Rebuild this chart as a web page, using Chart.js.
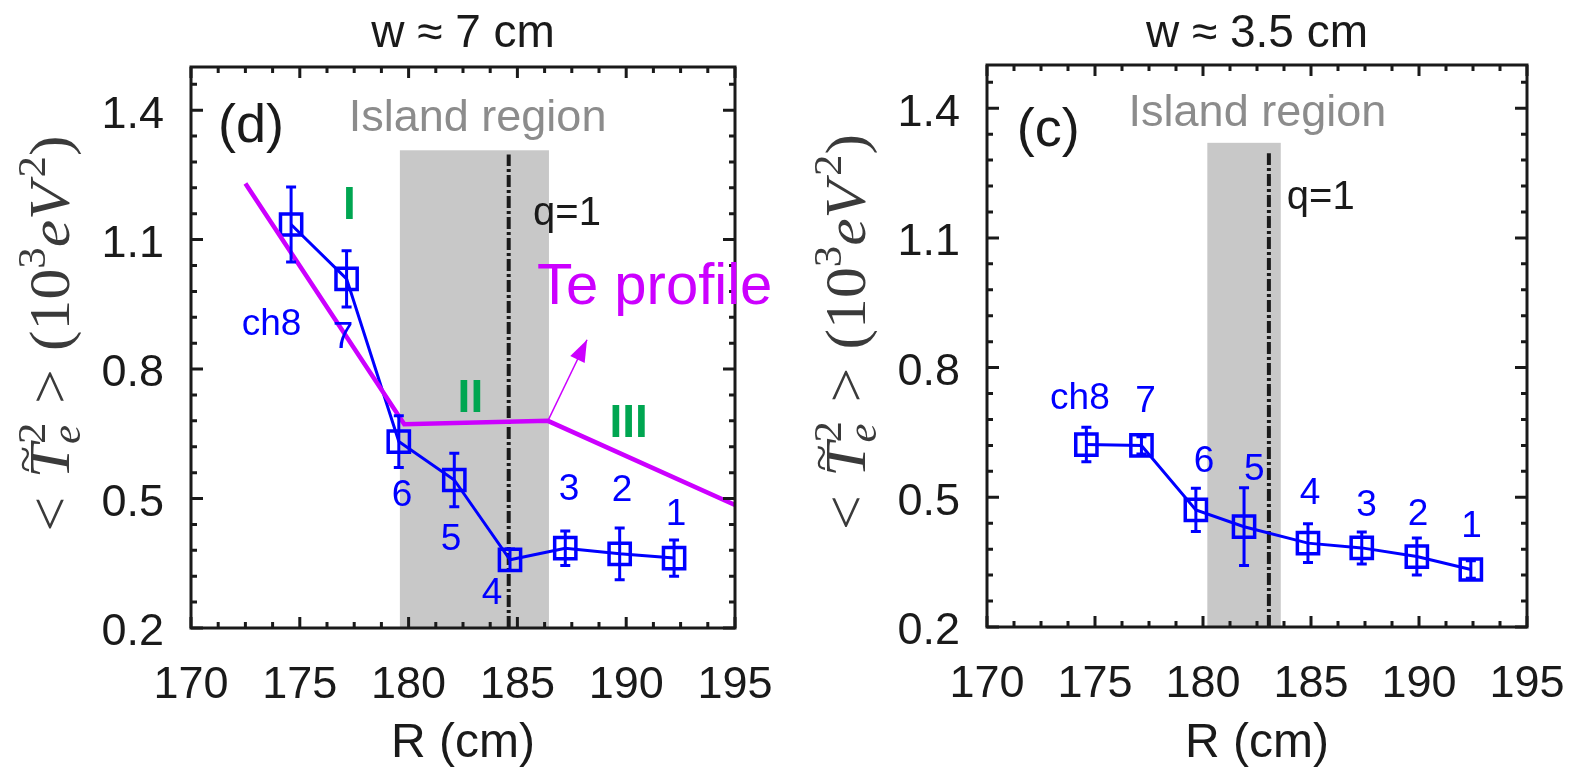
<!DOCTYPE html>
<html lang="en">
<head>
<meta charset="UTF-8">
<title>Te fluctuation vs R</title>
<script src="https://cdn.jsdelivr.net/npm/chart.js"></script>
<style>
  body { margin: 0; background: #fff; }
  .wrap { display: flex; width: 1571px; height: 773px; }
  #boxD { position: relative; width: 790px; height: 773px; }
  #boxC { position: relative; width: 781px; height: 773px; }
</style>
</head>
<body>
<div class="wrap">
  <div id="boxD"><canvas id="chartD"></canvas></div>
  <div id="boxC"><canvas id="chartC"></canvas></div>
</div>

<script>
// axes
const xTicks = [170, 175, 180, 185, 190, 195]
const yTicks = [0.2, 0.5, 0.8, 1.1, 1.4]
const channels = ['ch8', '7', '6', '5', '4', '3', '2', '1']

// panel (d), w ~ 7 cm
const rD = [174.6, 177.15, 179.55, 182.1, 184.66, 187.2, 189.7, 192.2]
const teD = [1.135, 1.009, 0.632, 0.543, 0.358, 0.385, 0.372, 0.362]
const errD = [0.087, 0.065, 0.06, 0.062, 0.025, 0.04, 0.06, 0.042]
const profileR = [172.5, 179.8, 186.4, 195]
const profileTe = [1.23, 0.672, 0.68, 0.485]
const islandD = [179.6, 186.45]
const q1D = 184.6

// panel (c), w ~ 3.5 cm
const rC = [174.6, 177.15, 179.67, 181.9, 184.86, 187.35, 189.9, 192.4]
const teC = [0.622, 0.62, 0.471, 0.432, 0.394, 0.383, 0.363, 0.333]
const errC = [0.04, 0.02, 0.05, 0.09, 0.045, 0.037, 0.043, 0.02]
const islandC = [180.2, 183.6]
const q1C = 183.05

// where the channel numbers sit (data units)
const labelPosD = [[173.7, 0.903], [176.99, 0.873], [179.7, 0.506], [181.95, 0.404], [183.83, 0.279], [187.37, 0.52], [189.81, 0.518], [192.29, 0.462]]
const labelPosC = [[174.3, 0.727], [177.34, 0.722], [180.05, 0.581], [182.38, 0.564], [184.95, 0.509], [187.57, 0.481], [189.95, 0.46], [192.43, 0.432]]

const SANS = '"Liberation Sans", Arial, sans-serif'
const SERIF = '"Liberation Serif", "Times New Roman", serif'
const BLUE = '#0000ff'
const MAGENTA = '#cc00ff'
const GREEN = '#00a651'
const INK = '#1a1a1a'

function xy(xs, ys) { return xs.map((x, i) => ({ x: x, y: ys[i] })) }

// grey island band + dash-dot q=1 line, under the data
const bandPlugin = {
  id: 'band',
  beforeDatasetsDraw(chart, args, o) {
    const { ctx, scales: { x, y } } = chart
    const x0 = x.getPixelForValue(o.band[0]), x1 = x.getPixelForValue(o.band[1])
    const yt = y.getPixelForValue(o.top), yb = y.getPixelForValue(y.min)
    ctx.save()
    ctx.fillStyle = '#c8c8c8'
    ctx.fillRect(x0, yt, x1 - x0, yb - yt)
    const xq = x.getPixelForValue(o.q1)
    ctx.strokeStyle = INK
    ctx.lineWidth = 4
    ctx.setLineDash([12, 3, 3, 3])
    ctx.beginPath()
    ctx.moveTo(xq, yb)
    ctx.lineTo(xq, y.getPixelForValue(o.qTop))
    ctx.stroke()
    ctx.restore()
  }
}

// vertical error bars with small caps
const errorBarPlugin = {
  id: 'errbars',
  afterDatasetsDraw(chart) {
    const { ctx, scales: { x, y } } = chart
    chart.data.datasets.forEach(ds => {
      if (!ds.errors) return
      ctx.save()
      ctx.strokeStyle = ds.borderColor
      ctx.lineWidth = 3
      ctx.beginPath()
      ds.data.forEach((p, i) => {
        const px = x.getPixelForValue(p.x)
        const t = y.getPixelForValue(p.y + ds.errors[i])
        const b = y.getPixelForValue(p.y - ds.errors[i])
        ctx.moveTo(px, t); ctx.lineTo(px, b)
        ctx.moveTo(px - 5, t); ctx.lineTo(px + 5, t)
        ctx.moveTo(px - 5, b); ctx.lineTo(px + 5, b)
      })
      ctx.stroke()
      ctx.restore()
    })
  }
}

function near(list, v) { return list.some(t => Math.abs(t - v) < 1e-6) }

// y title: < T~_e^2 > (10^3 eV^2), laid out piece by piece
function yTitle(ctx, draw) {
  const F = 56
  const nf = F + 'px ' + SERIF, itf = 'italic ' + nf
  const sf = Math.round(F * 0.7) + 'px ' + SERIF, sit = 'italic ' + sf
  let u = 0
  const put = (t, font, dy, adv = true) => {
    ctx.font = font
    const w = ctx.measureText(t).width
    if (draw) ctx.fillText(t, u, dy)
    if (adv) u += w
    return w
  }
  put('<', nf, 0)
  u += F * 0.3
  const uT = u
  const wT = put('T', itf, 0)
  ctx.font = Math.round(F * 0.8) + 'px ' + SERIF
  const wt = ctx.measureText('~').width
  if (draw) ctx.fillText('~', uT + wT * 0.55 - wt / 2, -F * 0.52)
  const w2 = put('2', sf, -F * 0.42, false)
  const we = put('e', sit, F * 0.2, false)
  u += Math.max(w2, we) + F * 0.3
  put('>', nf, 0)
  u += F * 0.3
  put('(', nf, 0)
  put('10', nf, 0)
  put('3', sf, -F * 0.42)
  put('e', itf, 0)
  put('V', itf, 0)
  u += F * 0.08
  put('2', sf, -F * 0.42)
  put(')', nf, 0)
  return u
}

// frame, inward ticks, texts, arrow and titles
const notesPlugin = {
  id: 'notes',
  afterDraw(chart, args, o) {
    const { ctx, chartArea: a, scales: { x, y } } = chart
    ctx.save()
    ctx.strokeStyle = INK
    ctx.lineWidth = 3
    ctx.strokeRect(a.left, a.top, a.right - a.left, a.bottom - a.top)
    ctx.beginPath()
    for (let v = x.min; v <= x.max + 1e-6; v += 1.25) {
      const px = x.getPixelForValue(v), len = near(xTicks, v) ? 11 : 6
      ctx.moveTo(px, a.bottom); ctx.lineTo(px, a.bottom - len)
      ctx.moveTo(px, a.top); ctx.lineTo(px, a.top + len)
    }
    for (let k = 0; 0.2 + k * 0.06 < y.max - 1e-6; k++) {
      const v = 0.2 + k * 0.06
      const py = y.getPixelForValue(v), len = near(yTicks, v) ? 12 : 6
      ctx.moveTo(a.left, py); ctx.lineTo(a.left + len, py)
      ctx.moveTo(a.right, py); ctx.lineTo(a.right - len, py)
    }
    ctx.stroke()

    // arrow from the Te profile kink
    if (o.arrow) {
      const x0 = x.getPixelForValue(o.arrow[0]), y0 = y.getPixelForValue(o.arrow[1])
      const x1 = x.getPixelForValue(o.arrow[2]), y1 = y.getPixelForValue(o.arrow[3])
      const ang = Math.atan2(y1 - y0, x1 - x0)
      ctx.strokeStyle = MAGENTA
      ctx.fillStyle = MAGENTA
      ctx.lineWidth = 1.5
      ctx.beginPath(); ctx.moveTo(x0, y0); ctx.lineTo(x1, y1); ctx.stroke()
      ctx.beginPath()
      ctx.moveTo(x1, y1)
      ctx.lineTo(x1 - 22 * Math.cos(ang) + 8 * Math.sin(ang), y1 - 22 * Math.sin(ang) - 8 * Math.cos(ang))
      ctx.lineTo(x1 - 22 * Math.cos(ang) - 8 * Math.sin(ang), y1 - 22 * Math.sin(ang) + 8 * Math.cos(ang))
      ctx.closePath()
      ctx.fill()
    }

    o.texts.forEach(t => {
      ctx.font = t.font
      ctx.fillStyle = t.color
      ctx.textAlign = t.align || 'center'
      ctx.textBaseline = t.base || 'middle'
      ctx.fillText(t.text, x.getPixelForValue(t.x), y.getPixelForValue(t.y))
    })

    // panel title
    ctx.font = '46px ' + SANS
    ctx.fillStyle = INK
    ctx.textAlign = 'center'
    ctx.textBaseline = 'alphabetic'
    ctx.fillText(o.title, (a.left + a.right) / 2, 47)

    // rotated y title, stretched a little along the text like the TeX font
    ctx.fillStyle = '#3a3a3a'
    ctx.textAlign = 'left'
    const total = yTitle(ctx, false) * 1.1
    ctx.translate(a.left - 122, (a.top + a.bottom) / 2 - 14)
    ctx.rotate(-Math.PI / 2)
    ctx.translate(-total / 2, 0)
    ctx.scale(1.1, 1)
    yTitle(ctx, true)
    ctx.restore()
  }
}

function channelTexts(pos) {
  return channels.map((c, i) => ({ text: c, x: pos[i][0], y: pos[i][1], font: '37px ' + SANS, color: BLUE }))
}

function makePanel(id, p) {
  const datasets = []
  if (p.profile) {
    datasets.push({
      data: xy(p.profile[0], p.profile[1]),
      borderColor: MAGENTA, borderWidth: 4.5, pointRadius: 0
    })
  }
  datasets.push({
    data: xy(p.r, p.te),
    errors: p.err,
    borderColor: BLUE, borderWidth: 3,
    pointStyle: 'rect', pointRadius: 15, pointBorderWidth: 3.5,
    pointBackgroundColor: 'rgba(0,0,0,0)', pointBorderColor: BLUE
  })

  return new Chart(document.getElementById(id), {
    type: 'line',
    data: { datasets: datasets },
    plugins: [bandPlugin, errorBarPlugin, notesPlugin],
    options: {
      responsive: true,
      maintainAspectRatio: false,
      animation: false,
      layout: { padding: { top: p.top, right: p.right, bottom: 0, left: 0 } },
      plugins: {
        legend: { display: false },
        tooltip: { enabled: false },
        band: { band: p.island, top: p.islandTop, q1: p.q1, qTop: p.qTop },
        notes: { texts: p.texts, title: p.title, arrow: p.arrow }
      },
      scales: {
        x: {
          type: 'linear', min: 170, max: 195,
          afterBuildTicks: s => { s.ticks = xTicks.map(v => ({ value: v })) },
          afterFit: s => {
            s.height = 773 - p.bottom
            s.paddingLeft = 0
            s.paddingRight = 0
          },
          grid: { display: false, drawTicks: false },
          border: { display: false },
          ticks: { font: { family: SANS, size: 45 }, color: INK, padding: 31, maxRotation: 0, autoSkip: false },
          title: { display: true, text: 'R (cm)', font: { family: SANS, size: 48 }, color: INK, padding: { top: 0, bottom: 0 } }
        },
        y: {
          type: 'linear', min: 0.2, max: 1.5,
          afterBuildTicks: s => { s.ticks = yTicks.map(v => ({ value: v })) },
          afterFit: s => {
            s.width = p.left
            s.paddingTop = 0
            s.paddingBottom = 0
          },
          grid: { display: false, drawTicks: false },
          border: { display: false },
          ticks: { font: { family: SANS, size: 45 }, color: INK, padding: 27, labelOffset: 5 }
        }
      }
    }
  })
}

const big = '54px ' + SANS
const roman = 'bold 46px ' + SANS

makePanel('chartD', {
  r: rD, te: teD, err: errD,
  profile: [profileR, profileTe],
  island: islandD, islandTop: 1.307, q1: q1D, qTop: 1.297,
  arrow: [186.4, 0.68, 188.2, 0.868],
  top: 67, right: 55, bottom: 628, left: 191,
  title: 'w \u2248 7 cm',
  texts: [
    { text: '(d)', x: 172.76, y: 1.36, font: big, color: INK },
    { text: 'Island region', x: 183.17, y: 1.352, font: '45px ' + SANS, color: '#8c8c8c', base: 'alphabetic' },
    { text: 'q=1', x: 185.72, y: 1.133, font: '40px ' + SANS, color: INK, align: 'left', base: 'alphabetic' },
    { text: 'I', x: 177.28, y: 1.178, font: roman, color: GREEN },
    { text: 'II', x: 182.84, y: 0.729, font: roman, color: GREEN },
    { text: 'III', x: 190.11, y: 0.671, font: roman, color: GREEN },
    { text: 'Te profile', x: 185.9, y: 0.95, font: '58px ' + SANS, color: MAGENTA, align: 'left', base: 'alphabetic' }
  ].concat(channelTexts(labelPosD))
})

makePanel('chartC', {
  r: rC, te: teC, err: errC,
  island: islandC, islandTop: 1.32, q1: q1C, qTop: 1.296,
  top: 65, right: 44, bottom: 627, left: 197,
  title: 'w \u2248 3.5 cm',
  texts: [
    { text: '(c)', x: 172.83, y: 1.348, font: big, color: INK },
    { text: 'Island region', x: 182.52, y: 1.36, font: '45px ' + SANS, color: '#8c8c8c', base: 'alphabetic' },
    { text: 'q=1', x: 183.88, y: 1.168, font: '40px ' + SANS, color: INK, align: 'left', base: 'alphabetic' }
  ].concat(channelTexts(labelPosC))
})
</script>
</body>
</html>
